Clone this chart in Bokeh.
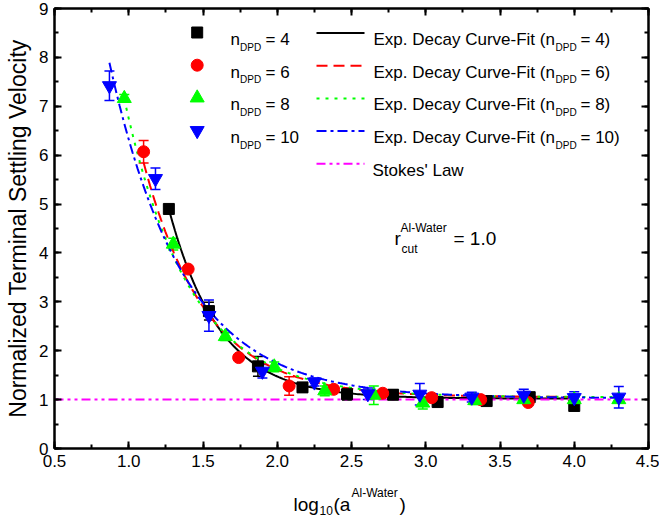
import numpy as np
from bokeh.plotting import figure
from bokeh.layouts import column
from bokeh.models import (ColumnDataSource, Whisker, TeeHead, LinearAxis, Range1d,
                          Label, SingleIntervalTicker, NumeralTickFormatter, CustomJSTickFormatter)
from bokeh.embed import file_html
from bokeh.resources import INLINE

# ---------------- data ----------------
x_n4 = [1.27, 1.54, 1.87, 2.17, 2.47, 2.78, 3.08, 3.41, 3.70, 4.00]
y_n4 = [4.90, 2.81, 1.68, 1.25, 1.11, 1.10, 0.95, 0.97, 1.05, 0.87]
e_n4 = [0.05, 0.18, 0.20, 0.05, 0.12, 0.10, 0.06, 0.05, 0.08, 0.06]

x_n6 = [1.10, 1.40, 1.74, 2.08, 2.38, 2.71, 3.04, 3.37, 3.69]
y_n6 = [6.07, 3.67, 1.86, 1.28, 1.21, 1.13, 1.04, 1.00, 0.94]
e_n6 = [0.23, 0.05, 0.05, 0.19, 0.05, 0.05, 0.06, 0.05, 0.05]

x_n8 = [0.97, 1.30, 1.65, 1.98, 2.32, 2.65, 2.98, 3.33, 3.66, 4.00, 4.30]
y_n8 = [7.16, 4.18, 2.29, 1.67, 1.18, 1.09, 0.93, 0.98, 1.00, 1.00, 1.00]
e_n8 = [0.08, 0.12, 0.08, 0.10, 0.10, 0.19, 0.12, 0.08, 0.05, 0.05, 0.05]

x_n10 = [0.87, 1.18, 1.54, 1.90, 2.25, 2.61, 2.96, 3.31, 3.66, 4.00, 4.30]
y_n10 = [7.42, 5.52, 2.72, 1.58, 1.36, 1.12, 1.11, 1.05, 1.09, 1.04, 1.05]
e_n10 = [0.30, 0.22, 0.32, 0.14, 0.08, 0.12, 0.22, 0.10, 0.12, 0.12, 0.22]

# exponential decay fit parameters: y = y0 + A * exp(-(x - x0) / t)
fit_labels = ["4", "6", "8", "10"]
fit_y0 = [1.02, 1.05, 1.05, 1.03]
fit_a = [3.88, 4.80, 6.10, 6.86]
fit_x0 = [1.27, 1.10, 0.97, 0.87]
fit_t = [0.34, 0.42, 0.44, 0.50]
fit_xmax = [4.00, 4.00, 4.30, 4.30]

stokes_x = [0.5, 4.45]
stokes_y = [1.0, 1.0]

x_ticks_interval = 0.5
y_ticks_interval = 1

# ---------------- styles ----------------
FONT = "Liberation Sans"
colors = ["black", "red", "#00ff00", "blue"]
markers = ["square", "circle", "triangle", "inverted_triangle"]
msizes = [11, 12, 14, 14]
dashes = ["solid", "11 6", "3 6", "10 4 3 4"]
stokes_color = "magenta"
stokes_dash = "9 4 3 4 3 4"

FR_L, FR_T, FR_B, FR_R = 54, 8, 448, 648
MAIN_H = 475
p = figure(width=659, height=MAIN_H, x_range=Range1d(0.5, 4.5), y_range=Range1d(0, 9),
           output_backend="svg", toolbar_location=None,
           min_border_left=FR_L, min_border_right=659 - FR_R, min_border_top=FR_T,
           min_border_bottom=MAIN_H - FR_B)
p.extra_x_ranges = {"fx": Range1d(0, 1)}
p.extra_y_ranges = {"fy": Range1d(0, 1)}
p.xgrid.visible = False
p.ygrid.visible = False
p.outline_line_color = "black"
p.outline_line_width = 2
p.background_fill_color = "white"
p.border_fill_color = "white"

p.xaxis.ticker = SingleIntervalTicker(interval=x_ticks_interval, num_minor_ticks=2)
p.yaxis.ticker = SingleIntervalTicker(interval=y_ticks_interval, num_minor_ticks=2)
p.xaxis.formatter = NumeralTickFormatter(format="0.0")

for ax in [p.xaxis[0], p.yaxis[0]]:
    ax.axis_line_width = 2
    ax.major_tick_in = 7
    ax.major_tick_out = 0
    ax.minor_tick_in = 4
    ax.minor_tick_out = 0
    ax.major_tick_line_width = 2
    ax.minor_tick_line_width = 2
    ax.major_label_text_font = FONT
    ax.major_label_text_font_size = "17px"
    ax.major_label_text_color = "black"
    ax.major_label_standoff = 6

p.yaxis.axis_label = "Normalized Terminal Settling Velocity"
p.yaxis.axis_label_text_font = FONT
p.yaxis.axis_label_text_font_size = "23px"
p.yaxis.axis_label_text_font_style = "normal"
p.yaxis.axis_label_text_color = "black"
p.yaxis.axis_label_standoff = 5

for loc, ticker in [("right", SingleIntervalTicker(interval=y_ticks_interval, num_minor_ticks=2)),
                    ("above", SingleIntervalTicker(interval=x_ticks_interval, num_minor_ticks=2))]:
    ax = LinearAxis(ticker=ticker, formatter=CustomJSTickFormatter(code="return ''"))
    ax.axis_line_width = 2
    ax.major_tick_in = 7
    ax.major_tick_out = 0
    ax.minor_tick_in = 4
    ax.minor_tick_out = 0
    ax.major_tick_line_width = 2
    ax.minor_tick_line_width = 2
    ax.major_label_text_font_size = "1px"
    ax.major_label_standoff = 0
    p.add_layout(ax, loc)

# ---------------- fit curves ----------------
for i in range(4):
    xs = np.linspace(fit_x0[i], fit_xmax[i], 200)
    ys = fit_y0[i] + fit_a[i] * np.exp(-(xs - fit_x0[i]) / fit_t[i])
    p.line(xs, ys, line_color=colors[i], line_width=2, line_dash=dashes[i])

p.line(stokes_x, stokes_y, line_color=stokes_color, line_width=2, line_dash=stokes_dash)

# ---------------- data points with error bars ----------------
series = [(x_n4, y_n4, e_n4), (x_n6, y_n6, e_n6), (x_n8, y_n8, e_n8), (x_n10, y_n10, e_n10)]
for i, (xs, ys, es) in enumerate(series):
    src = ColumnDataSource(dict(x=xs, y=ys,
                                lo=[a - b for a, b in zip(ys, es)],
                                hi=[a + b for a, b in zip(ys, es)]))
    w = Whisker(source=src, base="x", lower="lo", upper="hi", line_color=colors[i], line_width=1.5,
                lower_head=TeeHead(size=10, line_color=colors[i], line_width=1.5),
                upper_head=TeeHead(size=10, line_color=colors[i], line_width=1.5))
    p.add_layout(w)
    p.scatter("x", "y", source=src, marker=markers[i], size=msizes[i],
              fill_color=colors[i], line_color=colors[i])

# ---------------- legend (frame-fraction coordinates) ----------------
def fx(px):
    return (px - FR_L) / float(FR_R - FR_L)

def fy(py):
    return (FR_B - py) / float(FR_B - FR_T)

def txt(px, py, s, size):
    p.add_layout(Label(x=fx(px), y=fy(py), x_range_name="fx", y_range_name="fy",
                       text=s, text_font=FONT, text_font_size=size, text_color="black",
                       text_baseline="alphabetic", text_align="left"))

row_base = [39, 71.7, 104.4, 137.1, 169.8]
for i in range(4):
    b = row_base[i]
    p.scatter([fx(196.7)], [fy(b - 7)], x_range_name="fx", y_range_name="fy",
              marker=markers[i], size=msizes[i], fill_color=colors[i], line_color=colors[i])
    txt(230, b, "n", "17px")
    txt(239.5, b + 7.5, "DPD", "10px")
    txt(265, b, "= " + fit_labels[i], "17px")
    p.line([fx(316), fx(364)], [fy(b - 6.5), fy(b - 6.5)], x_range_name="fx", y_range_name="fy",
           line_color=colors[i], line_width=2, line_dash=dashes[i])
    txt(373, b, "Exp. Decay Curve-Fit (n", "17px")
    txt(555, b + 7.5, "DPD", "10px")
    txt(580, b, "= " + fit_labels[i] + ")", "17px")

b = row_base[4]
p.line([fx(316), fx(364)], [fy(b - 6.5), fy(b - 6.5)], x_range_name="fx", y_range_name="fy",
       line_color=stokes_color, line_width=2, line_dash=stokes_dash)
txt(372, b, "Stokes' Law", "17px")

# r_cut annotation
txt(394, 238, "r", "19px")
txt(400, 227, "Al-Water", "12px")
txt(401, 248, "cut", "12px")
txt(453, 238, "= 1.0", "19px")

# ---------------- x axis title (separate strip below the plot) ----------------
# the column layout aligns this strip's frame with the main frame (FR_L..FR_R)
STRIP_H = 521 - MAIN_H
q = figure(width=659, height=STRIP_H, x_range=Range1d(FR_L, FR_R), y_range=Range1d(STRIP_H, 0),
           output_backend="svg", toolbar_location=None,
           x_axis_location=None, y_axis_location=None,
           min_border_left=FR_L, min_border_right=659 - FR_R, min_border_top=0, min_border_bottom=0)
q.xgrid.visible = False
q.ygrid.visible = False
q.outline_line_color = None
q.background_fill_color = "white"
q.border_fill_color = "white"

def qtxt(px, py, s, size):
    q.add_layout(Label(x=px, y=py - MAIN_H, text=s, text_font=FONT, text_font_size=size,
                       text_color="black", text_baseline="alphabetic", text_align="left"))

qtxt(293, 504, "log", "19px")
qtxt(319, 510, "10", "12px")
qtxt(333, 504, "(a", "19px")
qtxt(351, 492, "Al-Water", "12px")
qtxt(399, 504, ")", "19px")

layout = column(p, q, spacing=0)
open("out.html", "w").write(file_html(layout, INLINE))
